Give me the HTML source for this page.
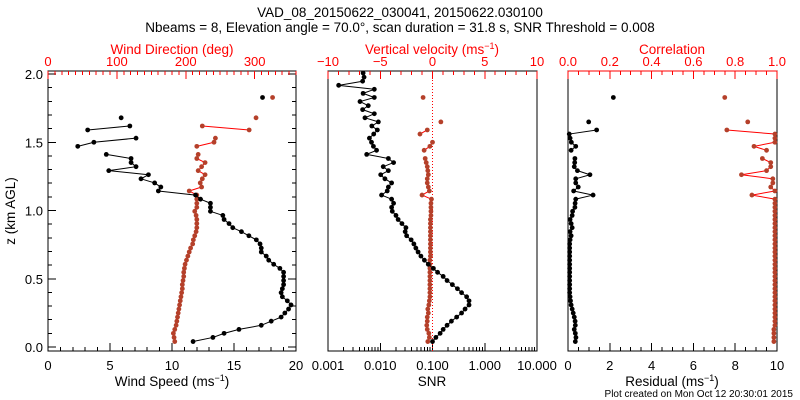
<!DOCTYPE html>
<html><head><meta charset="utf-8"><style>
html,body{margin:0;padding:0;background:#fff}
svg{display:block}
text{font-family:"Liberation Sans",sans-serif}
</style></head><body>
<svg id="c" width="800" height="400" viewBox="0 0 800 400" xmlns="http://www.w3.org/2000/svg">
<g id="g"></g>
</svg>
<script>
const heights=[0.040,0.070,0.100,0.129,0.159,0.189,0.219,0.249,0.278,0.308,0.338,0.368,0.398,0.427,0.457,0.487,0.517,0.547,0.576,0.606,0.636,0.666,0.696,0.725,0.755,0.785,0.815,0.845,0.874,0.904,0.934,0.964,0.994,1.023,1.053,1.083,1.113,1.143,1.172,1.202,1.232,1.262,1.292,1.321,1.351,1.381,1.411,1.441,1.470,1.500,1.530,1.560,1.590,1.619,1.649,1.679,1.709,1.739,1.768,1.798,1.828,1.858,1.888,1.917,1.947,1.977,2.007];
const windSpeed=[11.7,13.3,14.2,15.4,17.2,18.0,18.8,19.1,19.4,19.6,19.3,18.9,18.8,18.9,19.0,19.0,19.0,19.0,18.7,18.2,17.8,17.6,17.2,17.2,17.1,16.8,16.2,15.6,14.9,14.6,14.2,14.1,13.1,13.1,13.1,12.3,11.9,8.9,9.1,8.6,7.5,8.1,4.9,7.1,6.7,6.7,4.7,null,2.4,3.7,7.1,null,3.2,6.6,null,5.9,null,null,null,null,17.3,null,null,null,null,null,null];
const windDir=[184,183,182,184,186,187,188,189,190,191,192,193,194,195,195,196,197,197,198,199,201,203,205,207,210,211,213,215,216,216,216,215,213,216,216,216,216,205,223,221,224,228,218,223,228,216,218,null,216,241,243,null,292,224,null,302,null,null,null,null,326,null,null,null,null,null,null];
const snr=[0.10,0.116,0.14,0.16,0.19,0.23,0.29,0.36,0.42,0.50,0.50,0.45,0.36,0.30,0.24,0.19,0.16,0.125,0.104,0.083,0.070,0.060,0.053,0.048,0.044,0.039,0.032,0.030,0.031,0.026,0.022,0.020,0.017,0.0165,0.018,0.0165,0.0106,0.0136,0.0143,0.0165,0.0123,0.0102,0.0143,0.0114,0.018,0.0143,0.0055,0.0085,0.0074,0.0068,0.0062,0.0075,0.0088,0.0069,0.0092,0.0051,0.0077,0.0046,0.0059,0.0041,0.0077,0.0047,0.0077,0.0016,0.0046,0.0049,0.0047];
const vertVel=[-0.45,-0.3,-0.35,-0.5,-0.55,-0.5,-0.5,-0.4,-0.45,-0.35,-0.3,-0.25,-0.25,-0.25,-0.25,-0.25,-0.25,-0.25,-0.25,-0.25,-0.25,-0.2,-0.2,-0.2,-0.2,-0.2,-0.2,-0.2,-0.2,-0.2,-0.2,-0.15,-0.15,-0.15,-0.15,-0.1,-1.0,-0.3,-0.4,-0.5,-0.5,-0.4,-0.45,-0.5,-0.6,-0.7,null,-0.8,-0.25,0.0,null,-1.2,-0.5,null,0.8,null,null,null,null,null,-0.9,null,null,null,null,null,null];
const residual=[0.35,0.38,0.35,0.3,0.35,0.34,0.3,0.25,0.2,0.15,0.12,0.1,0.08,0.08,0.08,0.08,0.08,0.08,0.08,0.08,0.08,0.08,0.08,0.08,0.08,0.1,0.15,0.1,0.2,0.15,0.1,0.2,0.22,0.33,0.34,0.37,1.2,0.27,0.49,0.37,0.37,1.05,0.45,0.3,0.32,0.33,null,0.15,0.37,0.16,0.1,0.06,1.37,null,0.99,null,null,null,null,null,2.17,null,null,null,null,null,null];
const correlation=[0.985,0.985,0.985,0.985,0.99,0.99,0.99,0.99,0.99,0.99,0.99,0.99,0.99,0.99,0.99,0.99,0.99,0.99,0.99,0.99,0.99,0.99,0.99,0.99,0.99,0.99,0.99,0.99,0.99,0.99,0.99,0.99,0.99,0.99,0.99,0.99,0.88,0.99,0.97,0.98,0.98,0.83,0.95,0.97,0.97,0.93,null,0.95,0.89,0.99,0.99,0.99,0.76,null,0.86,null,null,null,null,null,0.75,null,null,null,null,null,null];
const zTicks=["0.0","0.5","1.0","1.5","2.0"];
const speedTicks=["0","5","10","15","20"];
const dirTicks=["0","100","200","300"];
const snrTicks=["0.001","0.010","0.100","1.000","10.000"];
const velTicks=["\u221210","\u22125","0","5","10"];
const resTicks=["0","2","4","6","8","10"];
const corTicks=["0.0","0.2","0.4","0.6","0.8","1.0"];

const NS="http://www.w3.org/2000/svg";
const G=document.getElementById('g');
const TOP=71,BOT=351,RED="#ff0000",MRK="#b5402a";
function yz(z){return 347-z*136.5;}
function el(tag,at,txt){const e=document.createElementNS(NS,tag);for(const k in at)e.setAttribute(k,at[k]);if(txt!==undefined)e.textContent=txt;G.appendChild(e);return e;}
function line(x1,y1,x2,y2,c){return el('line',{x1:x1,y1:y1,x2:x2,y2:y2,stroke:c,'stroke-width':1,'shape-rendering':'crispEdges'});}
function txt(x,y,s,c,size,anchor){return el('text',{x:x,y:y,fill:c,'font-size':size||13,'text-anchor':anchor||'middle'},s);}

const P1={l:48,r:296},P2={l:328,r:537},P3={l:568,r:777};
const xSpeed=v=>P1.l+v/20*(P1.r-P1.l);
const xDir=v=>P1.l+v/360*(P1.r-P1.l);
const xSnr=v=>P2.l+(Math.log10(v)+3)/4*(P2.r-P2.l);
const xVel=v=>P2.l+(v+10)/20*(P2.r-P2.l);
const xRes=v=>P3.l+v/10*(P3.r-P3.l);
const xCor=v=>P3.l+v*(P3.r-P3.l);

function frame(P,name,ticks,topColor){
  const r=el('rect',{x:P.l,y:TOP,width:P.r-P.l,height:BOT-TOP,fill:'none',stroke:'#000','stroke-width':1,'shape-rendering':'crispEdges'});
  
  
  line(P.l,TOP,P.r,TOP,topColor);
  if(ticks){for(let k=0;k<=20;k++){const y=yz(k*0.1);const L=(k%5==0)?8:4;line(P.l,y,P.l+L,y,'#000');line(P.r,y,P.r-L,y,'#000');}}
}
frame(P1,'wind-panel-frame',true,'#000');frame(P2,'snr-panel-frame',false,'#000');frame(P3,'residual-panel-frame',false,RED);
zTicks.forEach((s,i)=>{const t=txt(43,yz(i*0.5)+5,s,'#000',13,'end');});
for(let v=0;v<=20;v++){const x=xSpeed(v);line(x,BOT,x,BOT-(v%5==0?8:4),'#000');}
speedTicks.forEach((s,i)=>{const t=txt(xSpeed(i*5),370,s,'#000');});
for(let v=0;v<=360;v+=10){const x=xDir(v);line(x,TOP,x,TOP+(v%100==0?8:4),RED);}
dirTicks.forEach((s,i)=>{const t=txt(xDir(i*100),66,s,RED);});
for(let d=-3;d<1;d++){for(let m=1;m<10;m++){const v=m*Math.pow(10,d);const x=xSnr(v);line(x,BOT,x,BOT-(m==1?8:4),'#000');}}
snrTicks.forEach((s,i)=>{const t=txt(xSnr(Math.pow(10,i-3)),370,s,'#000');});
for(let v=-10;v<=10;v++){const x=xVel(v);line(x,TOP,x,TOP+(v%5==0?8:4),RED);}
velTicks.forEach((s,i)=>{const t=txt(xVel(-10+i*5),66,s,RED);});
el('line',{x1:xVel(0),y1:TOP,x2:xVel(0),y2:BOT,stroke:RED,'stroke-width':1,'stroke-dasharray':'1,2',});
for(let k=0;k<=20;k++){const x=xRes(k*0.5);line(x,BOT,x,BOT-(k%4==0?8:4),'#000');}
resTicks.forEach((s,i)=>{const t=txt(xRes(i*2),370,s,'#000');});
for(let k=0;k<=20;k++){const x=xCor(k*0.05);line(x,TOP,x,TOP+(k%4==0?8:4),RED);}
corTicks.forEach((s,i)=>{const t=txt(xCor(i*0.2),66,s,RED);});

function series(vals,xf,lc,mc,name){
  for(let i=1;i<vals.length;i++){
    if(vals[i]!=null&&vals[i-1]!=null){
      const s=el('line',{x1:xf(vals[i-1]),y1:yz(heights[i-1]),x2:xf(vals[i]),y2:yz(heights[i]),stroke:lc,'stroke-width':1});
      
      
    }
  }
  vals.forEach((v,i)=>{
    if(v==null)return;
    const c=el('circle',{cx:xf(v),cy:yz(heights[i]),r:2.4,fill:mc});
    
    
  });
}
series(windDir,xDir,RED,MRK,'wind-direction');
series(windSpeed,xSpeed,'#000','#000','wind-speed');
series(vertVel,xVel,RED,MRK,'vertical-velocity');
series(snr,xSnr,'#000','#000','snr');
series(correlation,xCor,RED,MRK,'correlation');
series(residual,xRes,'#000','#000','residual');

function lbl(x,y,html,c,size,name,anchor){const t=el('text',{x:x,y:y,fill:c,'font-size':size,'text-anchor':anchor||'middle'});t.innerHTML=html;return t;}
const sup='(ms<tspan dy="-5" font-size="9">\u22121</tspan><tspan dy="5">)</tspan>';
lbl(400,17,'VAD_08_20150622_030041, 20150622.030100','#000',13.5,'chart-title');
lbl(400,32,'Nbeams = 8, Elevation angle = 70.0\u00b0, scan duration = 31.8 s, SNR Threshold = 0.008','#000',13.5,'chart-subtitle');
lbl(172,54,'Wind Direction (deg)',RED,13.5,'direction-axis-title');
lbl(432,54,'Vertical velocity '+sup,RED,13.5,'velocity-axis-title');
lbl(672,54,'Correlation',RED,13.5,'correlation-axis-title');
lbl(172,386,'Wind Speed '+sup,'#000',13.5,'speed-axis-title');
lbl(432,386,'SNR','#000',13.5,'snr-axis-title');
lbl(672,386,'Residual '+sup,'#000',13.5,'residual-axis-title');
lbl(793,397,'Plot created on Mon Oct 12 20:30:01 2015','#000',10,'plot-timestamp','end');
const yt=lbl(0,0,'z (km AGL)','#000',13.5,'y-axis-title');yt.setAttribute('transform','translate(15,211) rotate(-90)');
</script>
</body></html>
